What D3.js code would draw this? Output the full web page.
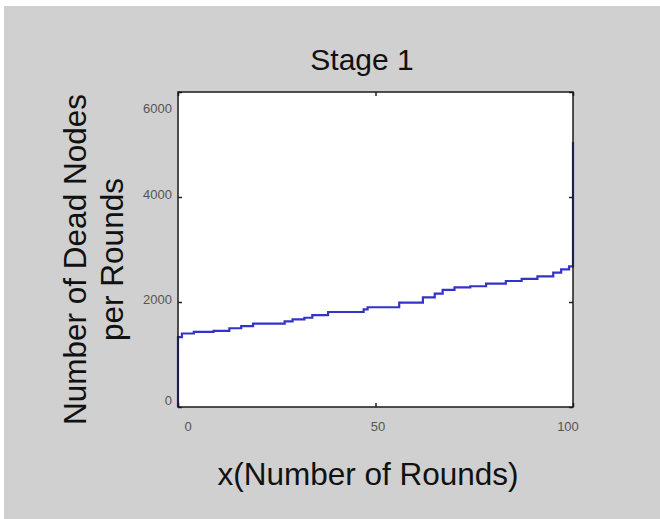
<!DOCTYPE html>
<html>
<head>
<meta charset="utf-8">
<script src="https://cdn.jsdelivr.net/npm/d3@7"></script>
<style>
  html, body { margin: 0; padding: 0; background: #ffffff; }
  svg { display: block; }
  text { font-family: "Liberation Sans", Arial, sans-serif; }
</style>
</head>
<body>
<svg id="chart" width="660" height="519"></svg>
<script>
// ---- data ----
const titleText = "Stage 1";
const xLabel = "x(Number of Rounds)";
const yLabelLines = ["Number of Dead Nodes", "per Rounds"];
const xTicks = [0, 50, 100];
const yTicks = [0, 2000, 4000, 6000];
const xDomain = [0, 100];
const yDomain = [0, 6000];
// step points: round at which the count changes, dead nodes from there on
const rounds     = [0, 0,    1,    4,    9,    13,   16,   19,   25,   27,   29,   32,   34,   38,   46,   47,   48,   55,   56,   61,   62,   65,   67,   70,   74,   78,   83,   87,   91,   95,   97,   99,   100, 100];
const deadNodes  = [0, 1330, 1400, 1430, 1450, 1500, 1540, 1590, 1590, 1630, 1670, 1700, 1750, 1810, 1810, 1860, 1900, 1900, 1990, 1990, 2090, 2160, 2230, 2280, 2300, 2350, 2400, 2440, 2490, 2560, 2620, 2680, 2680, 5050];

const svg = d3.select("#chart");
const W = 660, H = 519;

// background
svg.append("rect").attr("x", 0).attr("y", 0).attr("width", W).attr("height", H).attr("fill", "#ffffff");
svg.append("rect").attr("x", 4).attr("y", 6).attr("width", W - 4).attr("height", H - 6).attr("fill", "#cfd0cf");

const plot = { left: 178, right: 573, top: 92, bottom: 407 };

const x = d3.scaleLinear().domain(xDomain).range([plot.left, plot.right]);
const y = d3.scaleLinear().domain(yDomain).range([plot.bottom, plot.top]);
// tick labels in the reference sit slightly inside the tick positions
const xLab = d3.scaleLinear().domain(xDomain).range([plot.left + 10, plot.right - 5]);

// plot area
svg.append("rect")
  .attr("x", plot.left).attr("y", plot.top)
  .attr("width", plot.right - plot.left).attr("height", plot.bottom - plot.top)
  .attr("fill", "#ffffff");

// line
const pts = rounds.map((r, i) => [r, deadNodes[i]]);
const line = d3.line().x(d => x(d[0])).y(d => y(d[1])).curve(d3.curveStepAfter);
svg.append("path")
  .datum(pts)
  .attr("d", line)
  .attr("fill", "none")
  .attr("stroke", "#3333c8")
  .attr("stroke-width", 2.2);

// axes (inward ticks, MATLAB style)
const tickColor = "#222";
const xAxisB = d3.axisBottom(x).tickValues(xTicks).tickSizeInner(-4).tickSizeOuter(0).tickFormat("");
const xAxisT = d3.axisTop(x).tickValues(xTicks).tickSizeInner(-4).tickSizeOuter(0).tickFormat("");
const yAxisL = d3.axisLeft(y).tickValues(yTicks).tickSizeInner(-4).tickSizeOuter(0).tickPadding(6).tickFormat(d3.format("d"));
const yAxisR = d3.axisRight(y).tickValues(yTicks).tickSizeInner(-4).tickSizeOuter(0).tickFormat("");

function styleAxis(g) {
  g.select(".domain").remove();
  g.selectAll(".tick line").attr("stroke", tickColor).attr("stroke-width", 1.5);
  g.selectAll(".tick text").attr("fill", "#555").attr("font-size", 13)
    .attr("font-family", "'Liberation Sans', Arial, sans-serif");
}

svg.append("g").attr("transform", `translate(0,${plot.bottom})`).call(xAxisB).call(styleAxis);
svg.append("g").attr("transform", `translate(0,${plot.top})`).call(xAxisT).call(styleAxis);
const gy = svg.append("g").attr("transform", `translate(${plot.left},0)`).call(yAxisL).call(styleAxis);
gy.selectAll(".tick text").attr("dy", d => d === yDomain[1] ? "1.6em" : (d === yDomain[0] ? "-0.2em" : "0.15em"));
svg.append("g").attr("transform", `translate(${plot.right},0)`).call(yAxisR).call(styleAxis);

// x tick labels
svg.append("g").selectAll("text").data(xTicks).join("text")
  .attr("x", d => xLab(d)).attr("y", 431)
  .attr("text-anchor", "middle").attr("font-size", 13).attr("fill", "#555")
  .text(d3.format("d"));

// box
svg.append("rect")
  .attr("x", plot.left).attr("y", plot.top)
  .attr("width", plot.right - plot.left).attr("height", plot.bottom - plot.top)
  .attr("fill", "none").attr("stroke", "#1a1a1a").attr("stroke-width", 1.5);

// title
svg.append("text")
  .attr("x", 362).attr("y", 70)
  .attr("text-anchor", "middle").attr("font-size", 30).attr("fill", "#111")
  .text(titleText);

// x label
svg.append("text")
  .attr("x", 368).attr("y", 485)
  .attr("text-anchor", "middle").attr("font-size", 31.5).attr("fill", "#111")
  .text(xLabel);

// y label (two lines, rotated)
const yl = svg.append("text")
  .attr("transform", `translate(86,${(plot.top + plot.bottom) / 2 + 10}) rotate(-90)`)
  .attr("text-anchor", "middle").attr("font-size", 31.5).attr("fill", "#111");
yl.selectAll("tspan").data(yLabelLines).join("tspan")
  .attr("x", 0).attr("dy", (d, i) => i === 0 ? 0 : 37)
  .text(d => d);
</script>
</body>
</html>
